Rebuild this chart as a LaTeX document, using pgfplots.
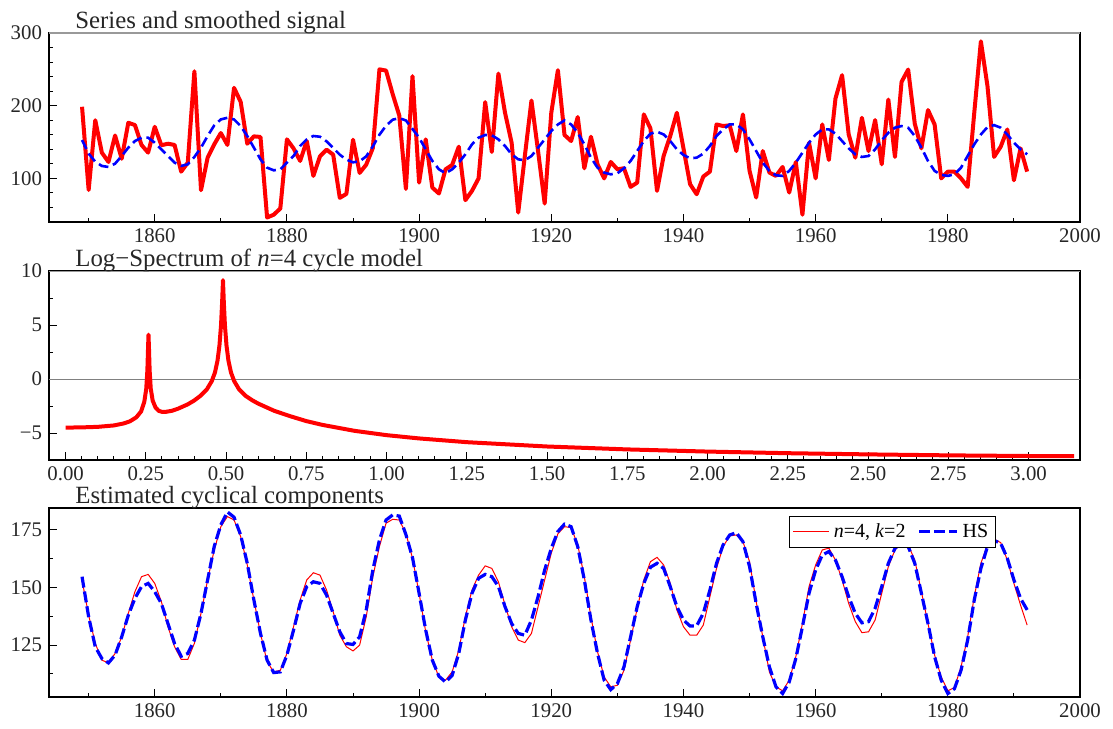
\documentclass[border=0pt]{standalone}
\usepackage{pgfplots}
\usepackage{pgfplotstable}
\pgfplotsset{compat=1.18}
\usepackage{fontspec}
\setmainfont{Liberation Serif}

% year, series, smoothed signal (top), HS cycle, n=4 k=2 cycle
\pgfplotstableread{
year y sm hs nk
1849 198.5 152.8 154.7 153.2
1850 84 134 137.3 138
1851 180 123 124.3 125.8
1852 135.4 117.1 119.2 118.5
1853 122.6 115.7 117.3 117.3
1854 159 120.3 120.7 121.4
1855 127 130.8 128.6 128.6
1856 176.5 142.3 138 138.8
1857 173.4 151.4 145.3 148.2
1858 146 156 150.4 154.7
1859 135.4 156 151.8 155.7
1860 171 149.1 148.2 151.8
1861 145.6 140 143.1 143.9
1862 147.7 130.8 134.4 133
1863 146 121.7 125.7 124.3
1864 109.3 117.1 120.2 118.8
1865 121.7 119.4 121.4 118.8
1866 247.4 129.5 127.2 125.8
1867 83.7 142.3 138.8 138.8
1868 128.5 158.3 153.3 153.3
1869 146.8 172.9 167.8 166.3
1870 162.4 181.1 177.2 176.4
1871 146 183.4 182.8 180.8
1872 224.6 181.1 180.5 179.3
1873 205.3 172 172.8 172.1
1874 147.7 158.3 160.5 159.8
1875 157.8 142.3 144.6 144.6
1876 157 126.2 130.1 130.1
1877 46.2 114.8 118.5 117.8
1878 50 111.1 113.1 113.4
1879 58.6 112.4 113.4 114.1
1880 153.7 121.7 120.7 121.4
1881 141.3 130.8 131.5 133
1882 124 144.6 143.1 144.6
1883 151.4 153.7 150.4 153.3
1884 103.4 158.3 152.5 156.4
1885 130.3 157.3 151.8 155.4
1886 139.5 150.9 146.7 148.9
1887 132.6 141.8 138.8 139.5
1888 73.2 132.6 130.8 129.3
1889 78.7 125.8 125.7 124.3
1890 153.2 122.1 125.3 122.5
1891 107.5 123.5 128.6 125
1892 118.9 130.3 140.3 137.3
1893 141.8 144 157.6 154.7
1894 250 160.1 170.7 167.8
1895 248.3 172.4 179.3 177.9
1896 216 180.7 181.5 179.6
1897 186.5 182.9 181 179.3
1898 85.5 179.7 173 173.6
1899 240.7 168 163 162.7
1900 94.2 156 147.5 147.5
1901 153.7 140 131.5 130.8
1902 87.4 124 118.5 118.5
1903 79.2 112.5 111.5 111.2
1904 112.5 107 109 109.8
1905 118.5 112.5 111.9 113.4
1906 143.6 121.7 121.4 122.8
1907 70 133.1 135.9 137.3
1908 82.8 146.8 147.5 148.9
1909 100 156 154 155.4
1910 204.9 159.7 155.7 159.4
1911 136.3 159.3 154.7 158.3
1912 244.2 153.7 150.4 152.5
1913 190.3 144.6 141.7 142.4
1914 149 133.1 134.4 133
1915 53 126.2 130.1 127.2
1916 130.9 124.9 129.3 126.1
1917 207.1 130.8 135.9 130.1
1918 137.6 142.3 146 141.7
1919 65.4 153.7 157.6 153.3
1920 190.3 165.2 167 164.9
1921 248.8 174.2 174.3 173.3
1922 159.7 179.7 177.5 176.4
1923 151.4 174.2 176.4 176
1924 184.4 162.8 167.8 168.5
1925 113.9 146.8 153.3 154.7
1926 157.3 128.5 135.9 137.3
1927 119.4 114.8 121.4 122.1
1928 100 108 109.8 111.2
1929 122.6 105.6 105.7 106.9
1930 112.5 107 108.3 107.6
1931 113.9 113.9 115.6 114.1
1932 88.3 124 128.6 127.2
1933 94.2 137.7 141.7 141
1934 188 151.4 151.8 153.3
1935 168.8 161.5 158.8 161.2
1936 82.8 164.2 160.5 163.1
1937 130.9 160.4 158.3 159.8
1938 158.3 151.4 150.4 151.8
1939 190.3 140 141.7 140.3
1940 141.3 132.2 135.9 133
1941 92 127.6 133.3 129.3
1942 78.2 128.5 133.4 129.3
1943 102.5 134 138.8 133.7
1944 109.3 144.6 148.9 146
1945 174.2 158.3 160.5 158.3
1946 172 167.4 168.5 167.8
1947 173 174.2 172.8 172.4
1948 137.6 174.2 173.8 172.8
1949 188 167.4 169.9 169.9
1950 110.3 153.7 159.1 161.2
1951 73.7 137.7 143.1 143.9
1952 137.6 121.7 128.6 128.6
1953 108 110.3 115.6 113.4
1954 103.4 104.3 106.9 106.9
1955 115.7 103.4 104 105.2
1956 80.5 110.3 109 109.8
1957 122.5 121.7 119.2 120
1958 50 135.4 133 134.4
1959 149 149.1 147.5 150.4
1960 100 160.4 157.6 159.8
1961 174.2 167.4 164.1 166.3
1962 125.3 167.4 165.6 167.1
1963 209.9 161.5 161.9 161.9
1964 242 151.4 154.7 153.3
1965 160.5 141.3 146 143.1
1966 128.5 133.1 138.8 135.2
1967 183.4 129.5 134.7 130.4
1968 137.6 130.8 135.2 130.8
1969 180.2 140 141 135.9
1970 119.4 152.3 150.4 147.5
1971 208.5 162.8 160.5 159.1
1972 129.5 169.7 167 166.3
1973 232.8 172 169.5 169.2
1974 249.7 169.7 167.8 168.5
1975 175.2 158.3 160.5 161.9
1976 141.3 142.3 147.5 148.2
1977 194 124 134.4 134.4
1978 174.2 110.3 120 120.7
1979 100 104.8 109.8 111.2
1980 109.3 103.4 104 105.2
1981 109.3 105.6 106.1 106.6
1982 100 114.8 114.1 115.6
1983 88.3 130.8 127.2 128.6
1984 190.3 146.8 144.6 146
1985 288.6 160.4 158.3 160.5
1986 226.9 170.6 167.8 168.5
1987 129.5 173.3 170.4 171
1988 143.6 169.7 169.2 169.5
1989 167.3 160.4 162.7 161.9
1990 97.4 149.1 153.3 151.8
1991 141.3 140 145.3 142.4
1992 109.3 133.1 140.3 133.7
}\series

% log-spectrum
\pgfplotstableread{
f s
0 -4.5
0.05 -4.48
0.10 -4.43
0.15 -4.3
0.18 -4.12
0.20 -3.92
0.22 -3.55
0.235 -3.0
0.245 -2.1
0.251 -0.9
0.2545 0.8
0.2565 2.8
0.258 4.1
0.2595 2.8
0.2615 0.8
0.265 -0.9
0.271 -2.0
0.28 -2.65
0.29 -2.95
0.30 -3.04
0.31 -3.05
0.33 -2.95
0.35 -2.75
0.38 -2.35
0.40 -2.0
0.42 -1.55
0.44 -0.95
0.455 -0.2
0.465 0.6
0.473 1.7
0.479 3.1
0.484 5.0
0.4875 7.2
0.490 9.15
0.4925 7.2
0.496 5.0
0.501 3.1
0.507 1.7
0.515 0.6
0.525 -0.2
0.54 -0.95
0.56 -1.55
0.58 -1.95
0.60 -2.28
0.65 -2.95
0.70 -3.45
0.75 -3.9
0.80 -4.25
0.90 -4.8
1.00 -5.2
1.10 -5.5
1.25 -5.85
1.50 -6.25
1.75 -6.52
2.00 -6.72
2.25 -6.87
2.50 -6.98
2.75 -7.07
3.00 -7.13
3.1416 -7.15
}\spec

\pgfplotsset{
  panel/.style={
    scale only axis, width=515.5pt, height=94.5pt,
    anchor=north west,
    axis line style={line width=0.6pt},
    tick align=inside, tick pos=left,
    major tick length=4pt, minor tick length=2pt,
    every tick/.style={black, line width=0.5pt},
    tick label style={font=\fontsize{10.4}{12}\selectfont, text=black!85},
    /pgf/number format/assume math mode=true,
  },
  years/.style={
    xmin=1844, xmax=2000,
    xtick={1860,1880,...,2000},
    minor xtick={1850,1870,...,1990},
    /pgf/number format/1000 sep={},
  },
  redleg/.style={legend image code/.code={\draw[##1] (0pt,0pt) -- (18pt,0pt);}},
  blueleg/.style={legend image code/.code={\draw[##1] (0pt,0pt) -- (19pt,0pt);}},
}

\begin{document}
\begin{tikzpicture}
\path[use as bounding box] (-24.5pt,16.5pt) rectangle (532pt,-347.5pt);

% top panel
\begin{axis}[panel, years, at={(0pt,0pt)},
  ymin=40, ymax=300,
  ytick={100,200,300},
  minor ytick={60,80,120,140,160,180,220,240,260,280}]
\addplot[red, line width=2pt, line join=round] table[x=year, y=y] {\series};
\addplot[blue, line width=1.3pt, dash pattern=on 5pt off 2.5pt] table[x=year, y=sm] {\series};
\draw[gray!80, line width=0.6pt] (rel axis cs:0,1) -- (rel axis cs:1,1);
\end{axis}
\node[anchor=base west, font=\fontsize{12.4}{14}\selectfont, text=black!85, inner sep=0pt] at (13pt,2.3pt) {Series and smoothed signal};

% middle panel
\begin{axis}[panel, at={(0pt,-119pt)},
  xmin=-0.052, xmax=3.16,
  ymin=-7.5, ymax=10,
  xtick={0,0.25,0.5,0.75,1,1.25,1.5,1.75,2,2.25,2.5,2.75,3},
  xticklabels={0.00,0.25,0.50,0.75,1.00,1.25,1.50,1.75,2.00,2.25,2.50,2.75,3.00},
  minor x tick num=4,
  ytick={-5,0,5,10},
  yticklabels={−5,0,5,10},
  minor ytick={-7.5,-2.5,2.5,7.5}]
\addplot[gray, line width=0.4pt] coordinates {(-0.1,0) (3.2,0)};
\addplot[red, line width=2pt, line join=round] table[x=f, y=s] {\spec};
\draw[gray!80, line width=0.6pt] (rel axis cs:0,1) -- (rel axis cs:1,1);
\end{axis}
\node[anchor=base west, font=\fontsize{12.4}{14}\selectfont, text=black!85, inner sep=0pt] at (13pt,-116.7pt) {Log−Spectrum of \textit{n}=4 cycle model};

% bottom panel
\begin{axis}[panel, years, at={(0pt,-237.5pt)},
  ymin=102.5, ymax=184.5,
  ytick={125,150,175},
  minor ytick={112.5,137.5,162.5},
  legend columns=2,
  legend style={at={(0.718,0.958)}, anchor=north west, draw=black, line width=0.5pt,
    font=\fontsize{10}{12}\selectfont, inner sep=1.5pt,
    /tikz/every even column/.append style={column sep=4pt}},
  legend cell align=left]
\addplot[red, line width=0.5pt, redleg] table[x=year, y=nk] {\series};
\addlegendentry{\textit{n}=4, \textit{k}=2}
\addplot[blue, line width=1.6pt, dash pattern=on 5.5pt off 2pt, blueleg] table[x=year, y=hs] {\series};
\addlegendentry{HS}
\end{axis}
\node[anchor=base west, font=\fontsize{12.4}{14}\selectfont, text=black!85, inner sep=0pt] at (13pt,-235.2pt) {Estimated cyclical components};
\end{tikzpicture}
\end{document}
